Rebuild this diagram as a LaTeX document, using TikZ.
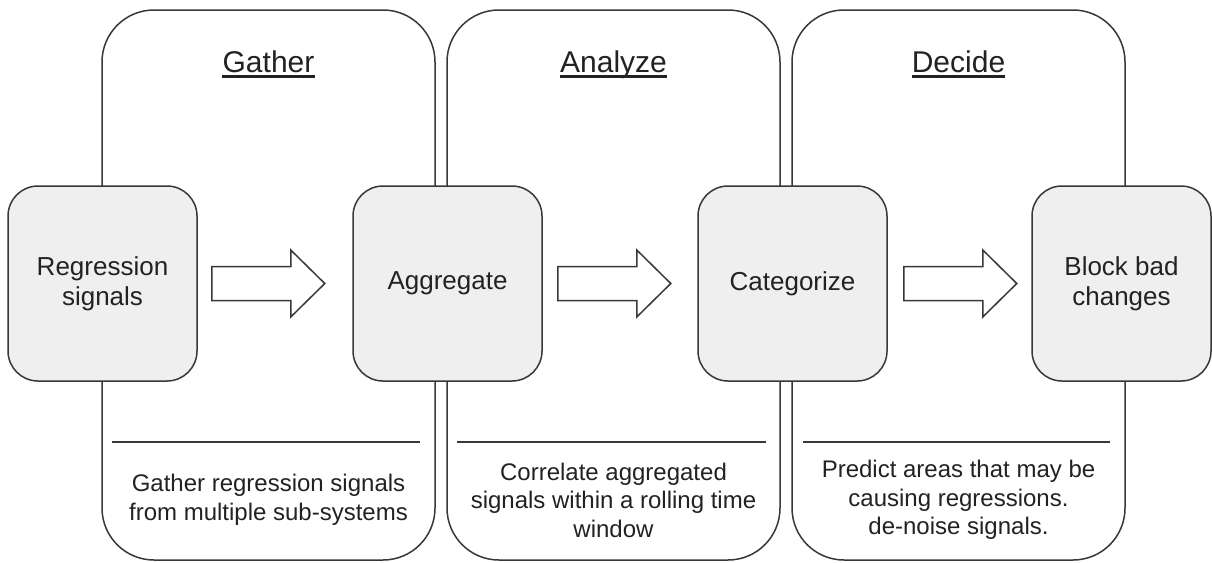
\documentclass[tikz,border=0pt]{standalone}
\usepackage{fontspec}
\setmainfont{Liberation Sans}
\usetikzlibrary{calc}

\definecolor{linegray}{HTML}{383838}
\definecolor{boxfill}{HTML}{EFEFEF}
\definecolor{inkgray}{HTML}{222222}

\tikzset{
  panel/.style={draw=linegray, line width=1.5pt, rounded corners=52pt,
    minimum width=333pt, minimum height=550pt, inner sep=0pt, fill=white},
  stagebox/.style={draw=linegray, line width=1.5pt, fill=boxfill, rounded corners=30pt,
    minimum width=189pt, minimum height=195pt, inner sep=0pt, align=center,
    text=inkgray, font=\fontsize{26}{30}\selectfont},
  paneltitle/.style={inner sep=0pt, text=inkgray, font=\fontsize{30}{34}\selectfont, anchor=base},
  underbar/.style={draw=inkgray, line width=2.2pt},
  divider/.style={draw=linegray, line width=1.5pt},
  note/.style={inner sep=0pt, align=center, text=inkgray, font=\fontsize{24}{28.5}\selectfont},
  blockarrow/.style={draw=linegray, line width=1.5pt, fill=white, line join=miter}
}

\newcommand{\hollowarrow}[1]{%
  \draw[blockarrow] (#1) -- ++(0,-17) -- ++(79,0) -- ++(0,-16.5) -- ++(34,33.5)
    -- ++(-34,33.5) -- ++(0,-16.5) -- ++(-79,0) -- cycle;}

\begin{document}
\begin{tikzpicture}[x=1pt, y=-1pt]
  \useasboundingbox (0,0) rectangle (1212,562);

  % the three phase panels
  \node[panel] (pg) at (268.5,285) {};
  \node[panel] (pa) at (613.5,285) {};
  \node[panel] (pd) at (958.5,285) {};

  % titles with underline
  \node[paneltitle] (tg) at (268.5,72) {Gather};
  \node[paneltitle] (ta) at (613.5,72) {Analyze};
  \node[paneltitle] (td) at (958.5,72) {Decide};
  \foreach \t in {tg,ta,td}
    \draw[underbar] ($(\t.base west)+(0,4.5)$) -- ($(\t.base east)+(0,4.5)$);

  % separators above the descriptions
  \draw[divider] (112,442) -- (420,442);
  \draw[divider] (457,442) -- (766,442);
  \draw[divider] (803,442) -- (1110,442);

  % descriptions
  \node[note] (ng) at (268.5,500) {Gather regression signals\\from multiple sub-systems};
  \node[note] (na) at (613.5,500) {Correlate aggregated\\signals within a rolling time\\window};
  \node[note] (nd) at (958.5,500) {Predict areas that may be\\causing regressions.\\de-noise signals.};

  % stage boxes
  \node[stagebox] (s1) at (102.5,283.5) {Regression\\signals};
  \node[stagebox] (s2) at (447.5,283.5) {Aggregate};
  \node[stagebox] (s3) at (792.5,283.5) {Categorize};
  \node[stagebox, minimum width=179pt] (s4) at (1121.5,283.5) {Block bad\\changes};

  % hollow block arrows between stages
  \coordinate (a1) at ($(s1.east)+(14,0)$);
  \coordinate (a2) at ($(s2.east)+(15,0)$);
  \coordinate (a3) at ($(s3.east)+(16,0)$);
  \hollowarrow{a1}
  \hollowarrow{a2}
  \hollowarrow{a3}
\end{tikzpicture}
\end{document}
